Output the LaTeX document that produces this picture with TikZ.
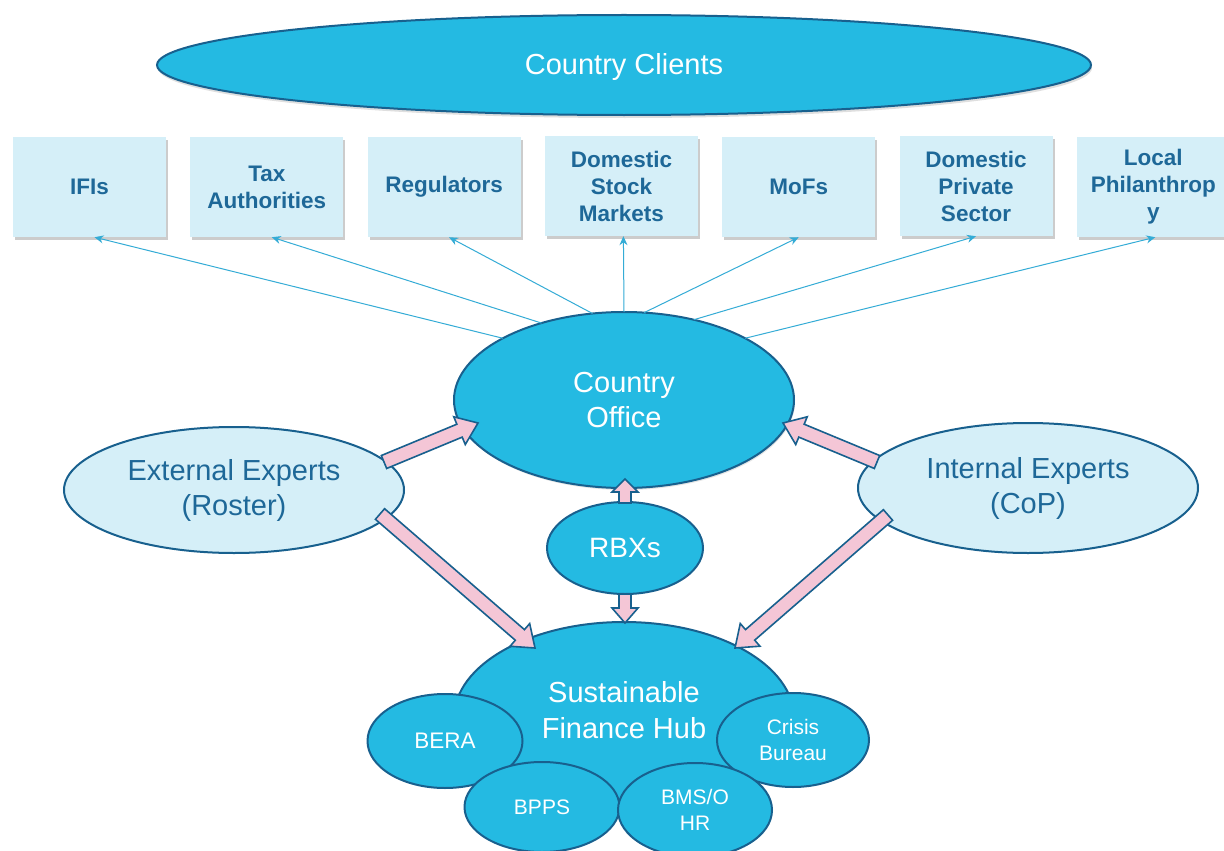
\documentclass[tikz,border=0pt]{standalone}
\usepackage{fontspec}
\setmainfont{Liberation Sans}
\usetikzlibrary{shapes.geometric,arrows.meta,calc,shadows}
\definecolor{cyanfill}{RGB}{36,186,226}
\definecolor{edgeblue}{RGB}{24,96,142}
\definecolor{lightfill}{RGB}{213,239,248}
\definecolor{txtblue}{RGB}{30,104,152}
\definecolor{pinkfill}{RGB}{244,198,214}
\definecolor{linecyan}{RGB}{52,172,214}
\newcommand\blockarrow[5]{% from, to, head length, shaft half width, head half width
  \path (#1) coordinate (ba-a) (#2) coordinate (ba-b);
  \path ($(ba-b)!#3!(ba-a)$) coordinate (ba-h);
  \draw[pinkarr] ($(ba-a)!#4!90:(ba-b)$) -- ($(ba-h)!#4!90:(ba-b)$) -- ($(ba-h)!#5!90:(ba-b)$) -- (ba-b)
     -- ($(ba-h)!#5!-90:(ba-b)$) -- ($(ba-h)!#4!-90:(ba-b)$) -- ($(ba-a)!#4!-90:(ba-b)$) -- cycle;
}
\begin{document}
\begin{tikzpicture}[x=1pt,y=-1pt,
  bigell/.style={ellipse, draw=edgeblue, line width=2pt, fill=cyanfill, text=white,
    inner sep=0pt, outer sep=0pt, align=center, font=\fontsize{29}{35}\selectfont},
  lightell/.style={bigell, fill=lightfill, text=txtblue},
  smallell/.style={bigell, font=\fontsize{22.5}{26}\selectfont},
  clientbox/.style={rectangle, fill=lightfill, minimum width=153pt, minimum height=100pt,
    inner sep=0pt, text=txtblue, align=center, font=\bfseries\fontsize{22.5}{27}\selectfont,
    drop shadow={shadow xshift=2pt, shadow yshift=-3pt, opacity=0.4, fill=gray}},
  thinarr/.style={draw=linecyan, line width=1pt, -{Stealth[length=9pt,width=8pt]}},
  pinkarr/.style={draw=edgeblue, line width=1.6pt, fill=pinkfill, line join=miter}
]
\useasboundingbox (0,0) rectangle (1224,851);
\fill[white] (0,0) rectangle (1224,851);

% top ellipse
\node[bigell, minimum width=934pt, minimum height=100pt,
  drop shadow={shadow xshift=1pt, shadow yshift=-3pt, opacity=0.25, fill=gray}] (cc) at (624,65) {};
\node[text=white, font=\fontsize{29}{35}\selectfont] (cct) at (624,67) {Country Clients};

% client boxes
\node[clientbox] (b1) at (89.5,187) {IFIs};
\node[clientbox] (b2) at (266.8,187) {Tax\\Authorities};
\node[clientbox] (b3) at (444.1,187) {Regulators};
\node[clientbox] (b4) at (621.4,186) {Domestic\\Stock\\Markets};
\node[clientbox] (b5) at (798.7,187) {MoFs};
\node[clientbox] (b6) at (976,186) {Domestic\\Private\\Sector};
\node[clientbox] (b7) at (1153.3,187) {Local\\Philanthrop\\y};

% country office
\node[bigell, minimum width=340pt, minimum height=176pt,
  drop shadow={shadow xshift=1pt, shadow yshift=-2pt, opacity=0.2, fill=gray}] (co) at (624,400) {Country\\Office};

% thin arrows
\draw[thinarr] (co.153) -- ([xshift=5pt]b1.south);
\draw[thinarr] (co.137) -- ([xshift=5pt]b2.south);
\draw[thinarr] (co.110) -- ([xshift=5pt]b3.south);
\draw[thinarr] (co.90) -- ([xshift=2pt]b4.south);
\draw[thinarr] (co.77) -- (b5.south);
\draw[thinarr] (co.49) -- (b6.south);
\draw[thinarr] (co.27) -- ([xshift=2pt]b7.south);

% experts
\node[lightell, minimum width=340pt, minimum height=126pt] (ext) at (234,490) {External Experts\\(Roster)};
\node[lightell, minimum width=340pt, minimum height=130pt] (int) at (1028,488) {Internal Experts\\(CoP)};

% RBXs
\node[bigell, font=\fontsize{28}{34}\selectfont, minimum width=156pt, minimum height=92pt] (rbx) at (625,548) {RBXs};

% hub
\node[bigell, minimum width=340pt, minimum height=192pt] (hub) at (624,718) {};
\node[text=white, align=center, font=\fontsize{29}{36}\selectfont] (hubt) at (624,710) {Sustainable\\Finance Hub};
\node[smallell, minimum width=155pt, minimum height=94pt] (bera) at (445,741) {BERA};
\node[smallell, minimum width=152pt, minimum height=94pt, font=\fontsize{21}{26}\selectfont] (crisis) at (793,740) {Crisis\\Bureau};
\node[smallell, minimum width=155pt, minimum height=90pt, font=\fontsize{21}{26}\selectfont] (bpps) at (542,807) {BPPS};
\node[smallell, minimum width=154pt, minimum height=94pt, font=\fontsize{21}{26}\selectfont] (bms) at (695,810) {BMS/O\\HR};

% pink block arrows
\coordinate (t1) at (384,462);
\coordinate (h1) at (478,423);
\coordinate (t2) at (380,514);
\coordinate (h2) at (535,648);
\coordinate (t3) at (877,462);
\coordinate (h3) at (783,423);
\coordinate (t4) at (888,515);
\coordinate (h4) at (735,648);
\coordinate (t5) at (625,503);
\coordinate (h5) at (625,479);
\coordinate (t6) at (625,594);
\coordinate (h6) at (625,623);
\blockarrow{t1}{h1}{20pt}{7pt}{15pt}
\blockarrow{t2}{h2}{20pt}{7pt}{15pt}
\blockarrow{t3}{h3}{20pt}{7pt}{15pt}
\blockarrow{t4}{h4}{20pt}{7pt}{15pt}
\blockarrow{t5}{h5}{13pt}{6pt}{13pt}
\blockarrow{t6}{h6}{15pt}{6pt}{13pt}
\end{tikzpicture}
\end{document}
